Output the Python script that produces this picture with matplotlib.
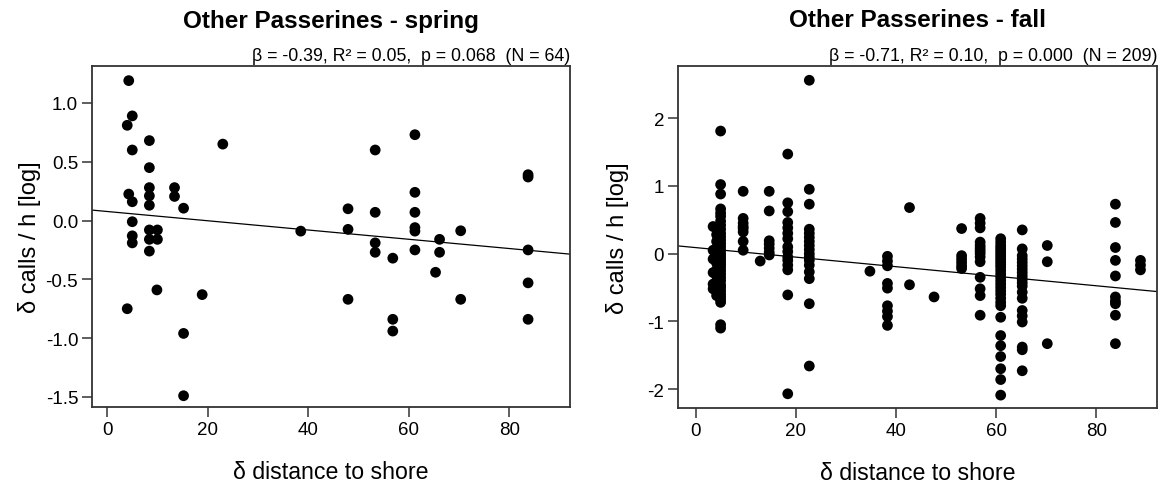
import matplotlib
matplotlib.use("Agg")
import matplotlib.pyplot as plt

plt.rcParams['font.family'] = ['Liberation Sans', 'DejaVu Sans']
plt.rcParams['axes.unicode_minus'] = False

# spring: distance to shore vs. change in calls per hour (log)
spring_x = [4.3, 5.0, 4.0, 8.4, 5.0, 23.0, 8.4, 8.4, 13.4, 4.3, 5.0, 8.4, 8.4, 13.4, 15.2,
            5.0, 8.4, 10.0, 5.0, 8.4, 10.0, 5.0, 8.4, 38.5, 9.9, 18.9, 4.0, 15.2, 15.2,
            61.2, 53.3, 83.7, 83.7, 61.2, 47.9, 53.3, 61.2, 47.9, 61.2, 61.2, 70.3,
            53.3, 53.3, 56.8, 61.2, 66.1, 66.1, 83.7, 65.3, 83.7, 47.9, 70.3, 56.8, 56.8, 83.7]
spring_y = [1.19, 0.89, 0.81, 0.68, 0.60, 0.65, 0.45, 0.28, 0.28, 0.225, 0.16, 0.21, 0.13, 0.205, 0.105,
            -0.01, -0.08, -0.08, -0.13, -0.16, -0.16, -0.19, -0.26, -0.09, -0.59, -0.63, -0.75, -0.96, -1.49,
            0.73, 0.60, 0.39, 0.37, 0.24, 0.10, 0.07, 0.07, -0.075, -0.06, -0.09, -0.087,
            -0.19, -0.27, -0.32, -0.25, -0.16, -0.27, -0.25, -0.44, -0.53, -0.67, -0.67, -0.84, -0.94, -0.84]
spring_fit = (0.077, -0.00394)   # intercept, slope
spring_stats = "β = -0.39, R² = 0.05,  p = 0.068  (N = 64)"

# fall: grouped by distance column
fall_cols = {
    5.0: [1.81, 1.02, 0.88, 0.66, 0.60, 0.55, 0.48, 0.42, 0.36, 0.30, 0.25, 0.20, 0.15, 0.10, 0.05,
          0.0, -0.04, -0.08, -0.12, -0.16, -0.20, -0.25, -0.30, -0.35, -0.40, -0.46, -0.50, -0.55,
          -0.60, -0.64, -0.68, -0.72, -1.05, -1.10],
    4.2: [0.36, 0.28, 0.18, 0.08, 0.02, -0.06, -0.14, -0.24, -0.33, -0.42, -0.50, -0.56, -0.62],
    3.5: [0.40, 0.05, -0.08, -0.28, -0.45, -0.52],
    9.5: [0.92, 0.52, 0.45, 0.40, 0.37, 0.32, 0.18, 0.05],
    12.9: [-0.11],
    14.7: [0.92, 0.63, 0.19, 0.14, 0.08, 0.02, -0.02],
    18.4: [1.47, 0.75, 0.62, 0.46, 0.38, 0.30, 0.22, 0.10, 0.03, -0.05, -0.10, -0.17, -0.24, -0.61, -2.07],
    22.7: [2.56, 0.95, 0.73, 0.36, 0.30, 0.24, 0.18, 0.12, 0.06, 0.0, -0.05, -0.10, -0.17, -0.27,
           -0.37, -0.74, -1.66],
    34.8: [-0.26],
    38.3: [-0.04, -0.11, -0.18, -0.44, -0.51, -0.77, -0.85, -0.93, -1.06],
    42.7: [0.68, -0.46],
    47.6: [-0.64],
    53.1: [0.37, -0.03, -0.08, -0.13, -0.18, -0.22],
    56.8: [0.52, 0.45, 0.38, 0.17, 0.12, 0.08, 0.04, 0.0, -0.05, -0.12, -0.35, -0.52, -0.62, -0.91],
    60.9: [0.22, 0.17, 0.12, 0.08, 0.04, 0.0, -0.04, -0.08, -0.12, -0.16, -0.20, -0.25, -0.30, -0.35,
           -0.40, -0.45, -0.50, -0.55, -0.60, -0.66, -0.72, -0.77, -0.94, -1.21, -1.36, -1.52,
           -1.70, -1.86, -2.09],
    65.2: [0.35, 0.07, -0.03, -0.08, -0.13, -0.18, -0.23, -0.28, -0.33, -0.38, -0.43, -0.48, -0.57,
           -0.66, -0.84, -0.92, -1.01, -1.38, -1.42, -1.73],
    70.2: [0.12, -0.12, -1.33],
    83.8: [0.73, 0.46, 0.09, -0.10, -0.33, -0.64, -0.70, -0.74, -0.91, -1.33],
    88.8: [-0.10, -0.17, -0.24],
}
fall_fit = (0.089, -0.00705)
fall_stats = "β = -0.71, R² = 0.10,  p = 0.000  (N = 209)"

fall_x = [d for d, ys in fall_cols.items() for _ in ys]
fall_y = [v for ys in fall_cols.values() for v in ys]

fig = plt.figure(figsize=(11.62, 4.89), dpi=100)
ax1 = fig.add_axes([0.0792, 0.1656, 0.4114, 0.6973])
ax2 = fig.add_axes([0.5835, 0.1636, 0.4122, 0.6993])


def panel(ax, x, y, fit, title, stats, xlim, ylim, yticks, yticklabels, ylab_x):
    ax.scatter(x, y, s=60, color='black', edgecolors='none', zorder=3)
    ax.axline((0, fit[0]), slope=fit[1], color='black', lw=0.9, zorder=2)
    ax.set_xlim(*xlim)
    ax.set_ylim(*ylim)
    ax.set_xticks([0, 20, 40, 60, 80])
    ax.set_yticks(yticks)
    ax.set_yticklabels(yticklabels)
    ax.tick_params(direction='out', length=7, width=1.1, labelsize=13.5, color='#333333', pad=3)
    for sp in ax.spines.values():
        sp.set_linewidth(1.3)
        sp.set_color('#333333')
    ax.text(0.5, 1.135, title, transform=ax.transAxes, ha='center', va='center',
            fontsize=17.5, fontweight='bold')
    ax.text(1.0, 1.006, stats, transform=ax.transAxes, ha='right', va='bottom', fontsize=12.8)
    ax.set_xlabel("δ distance to shore", fontsize=16.7)
    ax.xaxis.set_label_coords(0.5, -0.155)
    ax.set_ylabel("δ calls / h [log]", fontsize=17)
    ax.yaxis.set_label_coords(ylab_x, 0.5)


panel(ax1, spring_x, spring_y, spring_fit, "Other Passerines - spring", spring_stats,
      (-3.0, 92.05), (-1.586, 1.314),
      [1.0, 0.5, 0.0, -0.5, -1.0, -1.5], ["1.0", "0.5", "0.0", "-0.5", "-1.0", "-1.5"], -0.107)
panel(ax2, fall_x, fall_y, fall_fit, "Other Passerines - fall", fall_stats,
      (-3.5, 92.1), (-2.28, 2.77),
      [2, 1, 0, -1, -2], ["2", "1", "0", "-1", "-2"], -0.102)

fig.savefig("out.png", dpi=100)
